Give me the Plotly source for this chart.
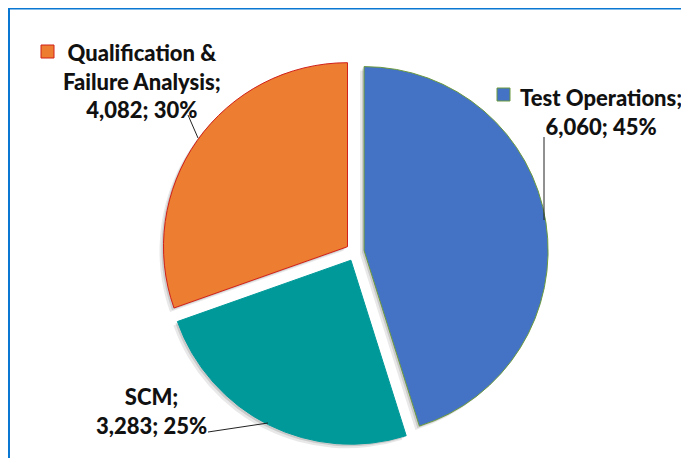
import textwrap
import plotly.graph_objects as go

# data
labels = ["Test Operations", "SCM", "Qualification & Failure Analysis"]
values = [6060, 3283, 4082]
pcts = [45, 25, 30]
fill_colors = ["#4472C4", "#009999", "#ED7D31"]
edge_colors = ["#6B9A3E", "#009999", "#D0201A"]

# the page body keeps its default 8px margin, so the figure is drawn 8px in
OFF = 8
W, H = 689 - OFF, 458 - OFF
PULL = 0.05
R = 184  # slice radius in px
CX, CY = 355, 252  # pie centre in window px


def pie_domain(cx, cy):
    # plotly shrinks the radius by (1 + max pull), so grow the box to match
    h = R * (1 + PULL)
    cx, cy = cx - OFF, cy - OFF
    return dict(x=[(cx - h) / W, (cx + h) / W], y=[1 - (cy + h) / H, 1 - (cy - h) / H])


def px(x, y):
    # window pixel -> paper coords
    return (x - OFF) / W, 1 - (y - OFF) / H


fig = go.Figure()

# soft drop shadow: two faint copies shifted down-left
for dx, dy, a in [(-4, 4, 0.09), (-2, 2, 0.13)]:
    fig.add_trace(go.Pie(
        labels=labels, values=values, sort=False, direction="clockwise",
        rotation=0, pull=PULL, textinfo="none", hoverinfo="skip",
        marker=dict(colors=["rgba(0,0,0,%s)" % a] * 3, line=dict(width=0)),
        domain=pie_domain(CX + dx, CY + dy), showlegend=False,
    ))

fig.add_trace(go.Pie(
    labels=labels, values=values, sort=False, direction="clockwise",
    rotation=0, pull=PULL, textinfo="none",
    marker=dict(colors=fill_colors, line=dict(color=edge_colors, width=1)),
    domain=pie_domain(CX, CY), showlegend=False,
))

# label blocks (text centre x, block centre y) and key squares
label_pos = [(601, 112), (151, 411), (142, 81)]
key_pos = [(497, 88), None, (41, 45)]
leaders = [[(544, 137), (544, 220)], [(208, 432), (268, 423)], [(188, 115), (198, 138)]]

for i, lab in enumerate(labels):
    lines = textwrap.wrap(lab + ";", 17) + ["{:,}; {}%".format(values[i], pcts[i])]
    x, y = px(*label_pos[i])
    fig.add_annotation(
        x=x, y=y, xref="paper", yref="paper", xanchor="center", yanchor="middle",
        text="<br>".join(lines), showarrow=False, align="center",
        font=dict(family="Lato", size=22, color="#111111", weight=900),
    )
    if key_pos[i]:
        kx, ky = key_pos[i]
        x0, y1 = px(kx, ky)
        x1, y0 = px(kx + 13, ky + 13)
        fig.add_shape(type="rect", xref="paper", yref="paper", x0=x0, x1=x1, y0=y0, y1=y1,
                      fillcolor=fill_colors[i], line=dict(color=edge_colors[i], width=1))
    (ax, ay), (bx, by) = leaders[i]
    x0, y0 = px(ax, ay)
    x1, y1 = px(bx, by)
    fig.add_shape(type="line", xref="paper", yref="paper", x0=x0, y0=y0, x1=x1, y1=y1,
                  line=dict(color="#222222", width=1))

# chart frame (only top and left edges are visible in the crop)
fx0, fy1 = px(9, 8.5)
fig.add_shape(type="rect", xref="paper", yref="paper", x0=fx0, y0=-0.2, x1=1.2, y1=fy1,
              line=dict(color="#0A78D2", width=2), layer="below")

fig.update_layout(
    width=W, height=H,
    margin=dict(l=0, r=0, t=0, b=0),
    paper_bgcolor="white", plot_bgcolor="white",
)

fig.write_html("out.html")
